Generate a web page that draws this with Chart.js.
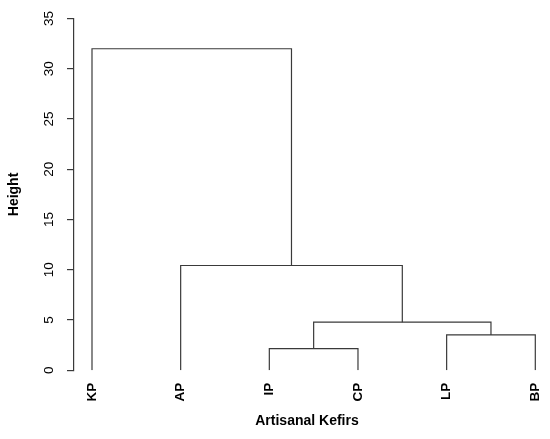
<!DOCTYPE html>
<html>
<head>
<meta charset="utf-8">
<script src="https://cdn.jsdelivr.net/npm/chart.js@4"></script>
<style>
  html, body { margin: 0; padding: 0; background: #fff; }
  #wrap { width: 550px; height: 439px; }
</style>
</head>
<body>
<div id="wrap"><canvas id="dendro"></canvas></div>
<script>
// leaves in plotting order
const leafLabels = ['KP', 'AP', 'IP', 'CP', 'LP', 'BP'];

// R-style merge table: negative = leaf (1-based), positive = earlier merge
const mergePairs = [[-3, -4], [-5, -6], [1, 2], [-2, 3], [-1, 4]];
const mergeHeights = [2.15, 3.52, 4.79, 10.43, 32.0];

const yTicks = [0, 5, 10, 15, 20, 25, 30, 35];

const FONT = '"Liberation Sans", Arial, Helvetica, sans-serif';
const LINE = '#3a3a3a';

// x and height of any node in the tree
function nodePos(ref, mergeX) {
  if (ref < 0) return { x: -ref, h: 0 };
  return { x: mergeX[ref - 1], h: mergeHeights[ref - 1] };
}

function buildLinks() {
  const mergeX = [];
  const datasets = [];
  mergePairs.forEach((pair, i) => {
    const a = nodePos(pair[0], mergeX);
    const b = nodePos(pair[1], mergeX);
    const h = mergeHeights[i];
    mergeX.push((a.x + b.x) / 2);
    datasets.push({
      data: [
        { x: a.x, y: a.h },
        { x: a.x, y: h },
        { x: b.x, y: h },
        { x: b.x, y: b.h }
      ],
      showLine: true,
      borderColor: LINE,
      borderWidth: 1.2,
      pointRadius: 0,
      pointHoverRadius: 0,
      fill: false,
      tension: 0
    });
  });
  return datasets;
}

const chart = new Chart(document.getElementById('dendro').getContext('2d'), {
  type: 'scatter',
  data: { datasets: buildLinks() },
  options: {
    responsive: true,
    maintainAspectRatio: false,
    animation: false,
    layout: { padding: { top: 17, right: 10, bottom: 0, left: 0 } },
    plugins: {
      legend: { display: false },
      tooltip: { enabled: false }
    },
    scales: {
      x: {
        type: 'linear',
        min: 0.797,
        max: 6.053,
        afterBuildTicks: scale => {
          scale.ticks = leafLabels.map((_, i) => ({ value: i + 1 }));
        },
        afterFit: scale => {
          scale.height = 68.7;
          // rotated labels stay inside the plot width, no side padding needed
          scale.paddingLeft = 0;
          scale.paddingRight = 0;
        },
        border: { display: false },
        grid: { display: false, drawTicks: false },
        ticks: {
          autoSkip: false,
          minRotation: 90,
          maxRotation: 90,
          padding: 12.5,
          color: '#000',
          font: { family: FONT, size: 13.5, weight: 'bold' },
          callback: value => leafLabels[Math.round(value) - 1]
        },
        title: {
          display: true,
          text: 'Artisanal Kefirs',
          color: '#000',
          font: { family: FONT, size: 14, weight: 'bold' },
          padding: { top: 10, bottom: 9.6 }
        }
      },
      y: {
        min: 0,
        max: 35,
        afterBuildTicks: scale => {
          scale.ticks = yTicks.map(v => ({ value: v }));
        },
        afterFit: scale => { scale.width = 74; },
        border: { display: true, color: LINE, width: 1.2 },
        grid: {
          drawOnChartArea: false,
          drawTicks: true,
          tickLength: 7,
          color: LINE,
          lineWidth: 1.2
        },
        ticks: {
          minRotation: 90,
          maxRotation: 90,
          crossAlign: 'center',
          padding: 10.5,
          color: '#000',
          font: { family: FONT, size: 13.5 }
        },
        title: {
          display: true,
          text: 'Height',
          color: '#000',
          font: { family: FONT, size: 14, weight: 'bold' },
          padding: { top: 5.6, bottom: 8 }
        }
      }
    }
  }
});
</script>
</body>
</html>
